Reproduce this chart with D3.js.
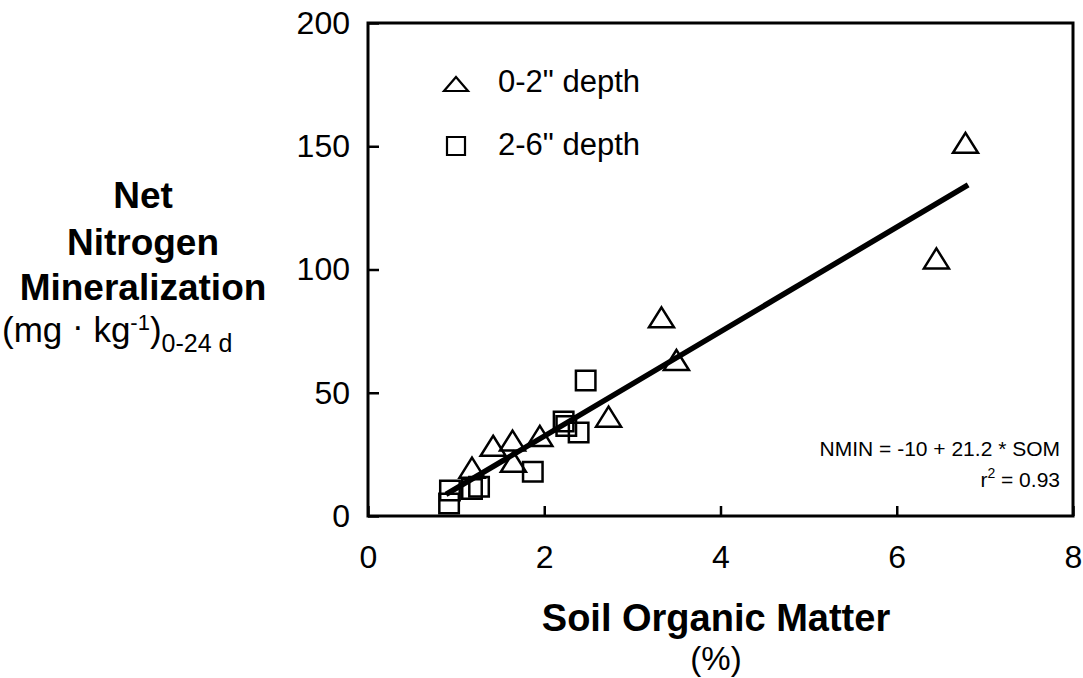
<!DOCTYPE html>
<html><head><meta charset="utf-8">
<script src="https://cdn.jsdelivr.net/npm/d3@7"></script>
<style>
html,body{margin:0;padding:0;background:#fff;}
svg{display:block;font-family:"Liberation Sans",Arial,Helvetica,sans-serif;}
</style></head>
<body>
<svg id="chart" width="1083" height="678"></svg>
<script>
// ---- data ----
const triX = [1.18, 1.42, 1.64, 1.65, 1.95, 2.73, 3.33, 3.50, 6.45, 6.78];
const triY = [19.6, 28.5, 30.6, 22.0, 32.5, 40.3, 80.6, 63.3, 104.5, 151.4];
const sqX  = [0.92, 0.93, 1.18, 1.26, 1.87, 2.22, 2.25, 2.39, 2.47];
const sqY  = [5.1, 10.3, 11.0, 11.9, 18.0, 38.3, 36.5, 33.9, 55.0];
const xTicks = [0, 2, 4, 6, 8];
const yTicks = [0, 50, 100, 150, 200];
const fitIntercept = -10, fitSlope = 21.2, fitRange = [0.885, 6.81];
const legendLabels = ['0-2" depth', '2-6" depth'];

const svg = d3.select("#chart");
const L = 368, T = 23, W = 705, H = 493;
const x = d3.scaleLinear().domain([0, 8]).range([L, L + W]);
const y = d3.scaleLinear().domain([0, 200]).range([T + H, T]);

// axes (inward ticks)
const ax = svg.append("g").attr("transform", `translate(0,${T + H})`)
  .call(d3.axisBottom(x).tickValues(xTicks).tickSizeInner(-10).tickSizeOuter(0).tickPadding(29));
const ay = svg.append("g").attr("transform", `translate(${L},0)`)
  .call(d3.axisLeft(y).tickValues(yTicks).tickSizeInner(-11).tickSizeOuter(0).tickPadding(18));
[ax, ay].forEach(g => {
  g.select(".domain").remove();
  g.selectAll(".tick line").attr("stroke", "#000").attr("stroke-width", 2.5);
  g.selectAll(".tick text").attr("fill", "#000").attr("font-size", 32)
    .attr("font-family", '"Liberation Sans",Arial,sans-serif');
});

// frame
svg.append("rect").attr("x", L).attr("y", T).attr("width", W).attr("height", H)
  .attr("fill", "none").attr("stroke", "#000").attr("stroke-width", 3);

// regression line
svg.append("line")
  .attr("x1", x(fitRange[0])).attr("y1", y(fitIntercept + fitSlope * fitRange[0]))
  .attr("x2", x(fitRange[1])).attr("y2", y(fitIntercept + fitSlope * fitRange[1]))
  .attr("stroke", "#000").attr("stroke-width", 5.5);

// markers
const triPath = (w, h) => `M0,${-h/2}L${w/2},${h/2}L${-w/2},${h/2}Z`;
const sqPath = s => `M${-s/2},${-s/2}H${s/2}V${s/2}H${-s/2}Z`;

svg.append("g").selectAll("path").data(triX.map((v, i) => [v, triY[i]])).join("path")
  .attr("transform", d => `translate(${x(d[0])},${y(d[1])})`)
  .attr("d", triPath(25, 20))
  .attr("fill", "none").attr("stroke", "#000").attr("stroke-width", 2.5).attr("stroke-linejoin", "miter");

svg.append("g").selectAll("path").data(sqX.map((v, i) => [v, sqY[i]])).join("path")
  .attr("transform", d => `translate(${x(d[0])},${y(d[1])})`)
  .attr("d", sqPath(19.5))
  .attr("fill", "none").attr("stroke", "#000").attr("stroke-width", 2.5);

// legend
svg.append("path").attr("transform", "translate(456,84)").attr("d", triPath(24, 14))
  .attr("fill", "none").attr("stroke", "#000").attr("stroke-width", 2.2);
svg.append("path").attr("transform", "translate(456,146)").attr("d", sqPath(18))
  .attr("fill", "none").attr("stroke", "#000").attr("stroke-width", 2.2);
svg.append("text").attr("x", 498).attr("y", 92).attr("font-size", 31).text(legendLabels[0]);
svg.append("text").attr("x", 498).attr("y", 155).attr("font-size", 31).text(legendLabels[1]);

// equation
const eq = svg.append("g").attr("font-size", 21).attr("text-anchor", "end");
eq.append("text").attr("x", 1060).attr("y", 456).text("NMIN = -10 + 21.2 * SOM");
const r2 = eq.append("text").attr("x", 1060).attr("y", 487);
r2.append("tspan").text("r");
r2.append("tspan").attr("font-size", 14).attr("dy", -9).text("2");
r2.append("tspan").attr("dy", 9).text(" = 0.93");

// y title
const yt = svg.append("g").attr("text-anchor", "middle");
[["Net", 208], ["Nitrogen", 255], ["Mineralization", 300]].forEach(([t, b]) => {
  yt.append("text").attr("x", 143).attr("y", b).attr("font-size", 37).attr("font-weight", "bold").text(t);
});
const u = svg.append("text").attr("x", 2).attr("y", 342).attr("font-size", 35);
u.append("tspan").text("(mg");
u.append("tspan").attr("dy", -4).text(" · ");
u.append("tspan").attr("dy", 4).text("kg");
u.append("tspan").attr("font-size", 22).attr("dy", -12).text("-1");
u.append("tspan").attr("dy", 12).text(")");
u.append("tspan").attr("font-size", 25).attr("dy", 10).text("0-24 d");

// x title
svg.append("text").attr("x", 716).attr("y", 631).attr("text-anchor", "middle")
  .attr("font-size", 38).attr("font-weight", "bold").text("Soil Organic Matter");
svg.append("text").attr("x", 716).attr("y", 670).attr("text-anchor", "middle")
  .attr("font-size", 33).text("(%)");
</script>
</body></html>
